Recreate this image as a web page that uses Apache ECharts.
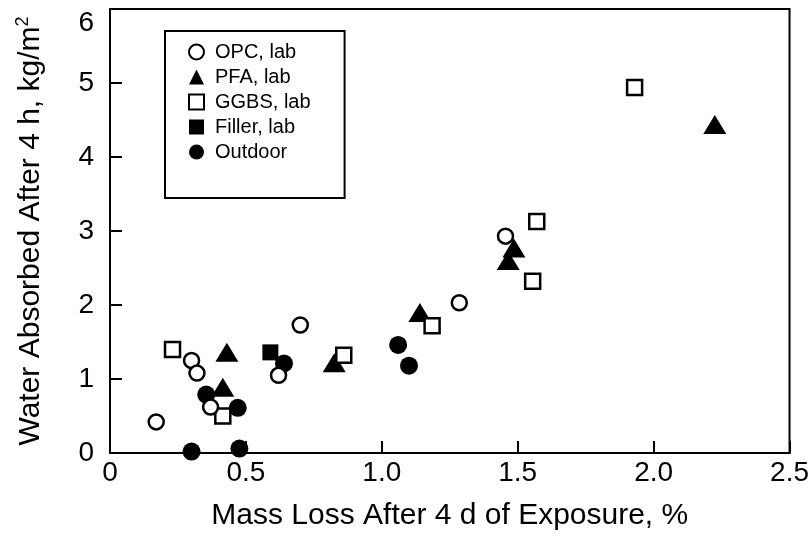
<!DOCTYPE html>
<html>
<head>
<meta charset="utf-8">
<script src="https://cdn.jsdelivr.net/npm/echarts@6/dist/echarts.min.js"></script>
<style>html,body{margin:0;padding:0;background:#fff}#c{width:812px;height:548px}</style>
</head>
<body>
<div id="c"></div>
<script>
// Data (x: mass loss %, y: water absorbed kg/m2)
const opcLab = [[0.17,0.42],[0.30,1.25],[0.32,1.08],[0.37,0.62],[0.62,1.05],[0.70,1.73],[1.285,2.03],[1.455,2.93]];
const pfaLab = [[0.415,0.89],[0.43,1.36],[0.825,1.22],[1.14,1.90],[1.465,2.60],[1.486,2.77],[2.225,4.44]];
const ggbsLab = [[0.23,1.40],[0.415,0.50],[0.86,1.32],[1.185,1.72],[1.555,2.32],[1.57,3.13],[1.93,4.94]];
const fillerLab = [[0.59,1.36]];
const outdoor = [[0.354,0.79],[0.47,0.61],[0.30,0.02],[0.476,0.06],[0.64,1.21],[1.06,1.46],[1.10,1.18]];
const legendNames = ['OPC, lab','PFA, lab','GGBS, lab','Filler, lab','Outdoor'];
const xTicks = [0,0.5,1.0,1.5,2.0,2.5];
const yTicks = [0,1,2,3,4,5,6];

const FONT = 'Liberation Sans';
const chart = echarts.init(document.getElementById('c'), null, {renderer:'canvas'});
const axisLineStyle = {color:'#000', width:2};
chart.setOption({
  animation:false,
  backgroundColor:'#fff',
  grid:{left:110, right:16, top:9, bottom:95, show:true, borderColor:'#000', borderWidth:2, backgroundColor:'transparent'},
  xAxis:{
    type:'value', min:xTicks[0], max:xTicks[xTicks.length-1], interval:0.5,
    axisLine:{lineStyle:axisLineStyle},
    axisTick:{inside:true, length:12, lineStyle:axisLineStyle},
    splitLine:{show:false},
    axisLabel:{margin:6, color:'#000', fontFamily:FONT, fontSize:28,
      formatter:v=> v===0 ? '0' : v.toFixed(1)},
    name:'Mass Loss After 4 d of Exposure, %', nameLocation:'middle', nameGap:48,
    nameTextStyle:{color:'#000', fontFamily:FONT, fontSize:30}
  },
  yAxis:{
    type:'value', min:yTicks[0], max:yTicks[yTicks.length-1], interval:1,
    axisLine:{lineStyle:axisLineStyle},
    axisTick:{inside:true, length:12, lineStyle:axisLineStyle},
    splitLine:{show:false},
    axisLabel:{margin:16, color:'#000', fontFamily:FONT, fontSize:28,
      formatter:v=> v===6 ? '{s|6}' : String(v),
      rich:{s:{fontFamily:FONT, fontSize:28, color:'#000', padding:[28,0,0,0]}}},
    name:'Water Absorbed After 4 h, kg/m{sup|2}', nameLocation:'middle', nameGap:62,
    nameTextStyle:{color:'#000', fontFamily:FONT, fontSize:30,
      rich:{sup:{fontFamily:FONT, fontSize:18, color:'#000', verticalAlign:'top', padding:[0,0,16,0]}}}
  },
  legend:{
    data:legendNames, orient:'vertical', left:165, top:31,
    padding:[11,34,36,23], itemGap:5, itemWidth:15, itemHeight:15,
    borderColor:'#000', borderWidth:2, backgroundColor:'#fff',
    textStyle:{color:'#000', fontFamily:FONT, fontSize:20, padding:[0,0,0,6]}
  },
  series:[
    {name:'Outdoor', type:'scatter', data:outdoor, symbol:'circle', symbolSize:18,
     itemStyle:{color:'#000', opacity:1}},
    {name:'Filler, lab', type:'scatter', data:fillerLab, symbol:'rect', symbolSize:16,
     itemStyle:{color:'#000', opacity:1}},
    {name:'PFA, lab', type:'scatter', data:pfaLab, symbol:'triangle', symbolSize:[23,19],
     itemStyle:{color:'#000', opacity:1}},
    {name:'GGBS, lab', type:'scatter', data:ggbsLab, symbol:'rect', symbolSize:15,
     itemStyle:{color:'#fff', borderColor:'#000', borderWidth:2.5, opacity:1}},
    {name:'OPC, lab', type:'scatter', data:opcLab, symbol:'circle', symbolSize:15,
     itemStyle:{color:'#fff', borderColor:'#000', borderWidth:2.5, opacity:1}}
  ]
});
</script>
</body>
</html>
